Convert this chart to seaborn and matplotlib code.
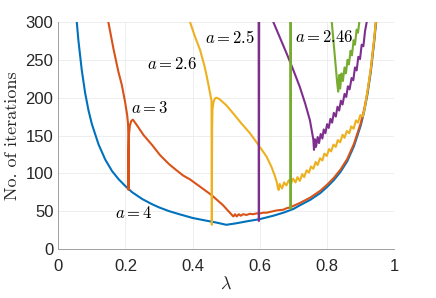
import matplotlib
matplotlib.use("Agg")
import matplotlib.pyplot as plt
import seaborn as sns
import numpy as np
import pandas as pd

# values
lam_a4 = [0.055, 0.06, 0.07, 0.08, 0.09, 0.10, 0.12, 0.14, 0.16, 0.18, 0.20, 0.22, 0.25,
          0.28, 0.30, 0.33, 0.36, 0.40, 0.44, 0.47, 0.50, 0.53, 0.56, 0.60, 0.64, 0.67,
          0.70, 0.72, 0.75, 0.78, 0.80, 0.82, 0.84, 0.86, 0.88, 0.90, 0.91, 0.92, 0.93,
          0.94, 0.946]
it_a4 = [300, 275, 236, 206, 183, 165, 138, 118, 103, 92, 83, 75, 66,
         59, 55, 50, 46, 41, 37.5, 35, 32, 34, 36.5, 39.5, 44, 48,
         53, 58, 65, 74, 82, 91, 102, 116, 136, 163, 181, 204, 234,
         273, 300]

lam_a3 = [0.149, 0.164, 0.179, 0.189, 0.1985, 0.205, 0.2075, 0.2085, 0.209, 0.2095, 0.2105,
          0.213, 0.217, 0.222, 0.235, 0.253, 0.28, 0.303, 0.33, 0.352, 0.372, 0.392, 0.42,
          0.457, 0.49, 0.521, 0.526, 0.531, 0.537, 0.543, 0.55, 0.56, 0.57, 0.58, 0.59, 0.60,
          0.61, 0.62, 0.63, 0.64, 0.65, 0.66, 0.67, 0.68, 0.69, 0.70, 0.72, 0.75, 0.78, 0.80,
          0.82, 0.84, 0.86, 0.88, 0.90, 0.91, 0.92, 0.93, 0.94, 0.945]
it_a3 = [300, 265, 234, 217, 195, 177, 166, 150, 78, 130, 152,
         163, 169, 171, 163, 151, 137, 124, 112, 104, 97, 92, 83,
         71, 58, 43, 46, 43, 46, 44, 46, 45, 46.5, 46, 47, 47,
         48, 48, 49, 50, 51, 51.5, 52, 54, 55, 57, 61, 68, 77, 85,
         94, 105, 119, 139, 166, 184, 207, 237, 276, 300]

lam_a26 = [0.392, 0.405, 0.422, 0.435, 0.442, 0.449, 0.453, 0.456, 0.457, 0.4578, 0.459,
           0.462, 0.466, 0.471, 0.48, 0.50, 0.521, 0.545, 0.5705, 0.595, 0.62, 0.635, 0.645,
           0.65, 0.653, 0.656, 0.659, 0.666, 0.672, 0.679, 0.686, 0.692, 0.699, 0.706, 0.712,
           0.719, 0.726, 0.732, 0.739, 0.746, 0.752, 0.759, 0.766, 0.772, 0.779, 0.786, 0.792,
           0.799, 0.806, 0.812, 0.819, 0.826, 0.832, 0.839, 0.846, 0.852, 0.859, 0.866, 0.872,
           0.879, 0.886, 0.892, 0.899, 0.906, 0.912, 0.92, 0.93, 0.94, 0.945]
it_a26 = [300, 283, 263, 242, 228, 212, 203, 196, 32, 160, 185,
          194, 199, 200, 198, 190, 179, 166, 153, 138, 122, 108, 96,
          89, 82, 78, 86, 80, 88, 84, 91, 86, 93, 88, 95,
          90, 99, 95, 104, 101, 109, 106, 115, 111, 120, 117, 126,
          123, 132, 129, 138, 135, 144, 141, 151, 147, 156, 153, 162,
          159, 170, 167, 177, 175, 186, 208, 238, 277, 300]

lam_a25 = [0.596, 0.597, 0.598, 0.62, 0.64, 0.66, 0.68, 0.70, 0.719, 0.735, 0.749, 0.755,
           0.759, 0.761, 0.764, 0.767, 0.772, 0.776, 0.781, 0.786, 0.79, 0.795, 0.80, 0.805,
           0.81, 0.815, 0.82, 0.826, 0.831, 0.836, 0.841, 0.846, 0.852, 0.857, 0.862, 0.867,
           0.873, 0.878, 0.883, 0.888, 0.893, 0.898, 0.903, 0.908, 0.913, 0.918]
it_a25 = [420, 37, 420, 330, 300, 279, 258, 236, 214, 192, 170, 155,
          145, 131, 145, 135, 148, 140, 152, 146, 158, 153, 165, 160,
          172, 167, 180, 175, 188, 183, 196, 191, 205, 201, 215, 211,
          226, 223, 240, 236, 254, 251, 270, 268, 288, 300]

lam_a246 = [0.690, 0.6915, 0.693, 0.80, 0.814, 0.82, 0.826, 0.83, 0.833, 0.836, 0.839,
            0.843, 0.847, 0.852, 0.856, 0.861, 0.865, 0.87, 0.874, 0.879, 0.883, 0.888,
            0.892, 0.896]
it_a246 = [420, 53, 420, 330, 300, 270, 240, 220, 208, 230, 212,
           232, 222, 240, 232, 250, 244, 262, 256, 276, 270, 290,
           286, 300]

curves = [
    (lam_a4, it_a4, "#0072BD"),
    (lam_a3, it_a3, "#D95319"),
    (lam_a26, it_a26, "#EDB120"),
    (lam_a25, it_a25, "#7E2F8E"),
    (lam_a246, it_a246, "#77AC30"),
]

label_text = [r"$a = 4$", r"$a = 3$", r"$a = 2.6$", r"$a = 2.5$", r"$a = 2.46$"]
label_x = [0.224, 0.273, 0.338, 0.511, 0.792]
label_y = [47, 187, 244, 280, 280]

sns.set_style("white")
plt.rcParams["font.family"] = ["Liberation Sans", "DejaVu Sans"]
plt.rcParams["mathtext.fontset"] = "cm"

fig = plt.figure(figsize=(4.36, 2.98), dpi=100)
ax = fig.add_axes([0.1337, 0.1644, 0.7706, 0.7617])

for lam, it, col in curves:
    df = pd.DataFrame({"lam": lam, "it": it})
    sns.lineplot(data=df, x="lam", y="it", sort=False, estimator=None,
                 color=col, linewidth=1.5, ax=ax)

for t, x, y in zip(label_text, label_x, label_y):
    ax.text(x, y, t, fontsize=12, ha="center", va="center", color="black")

ax.set_xlim(0, 1)
ax.set_ylim(0, 300)
ax.set_xticks(np.arange(0, 1.01, 0.2))
ax.set_xticklabels(["0", "0.2", "0.4", "0.6", "0.8", "1"])
ax.set_yticks(np.arange(0, 301, 50))
ax.grid(True, color="#ebebeb", linewidth=0.6)
ax.set_axisbelow(True)
for s in ["top", "right"]:
    ax.spines[s].set_visible(False)
for s in ["left", "bottom"]:
    ax.spines[s].set_color("#a0a0a0")
    ax.spines[s].set_linewidth(0.7)
ax.tick_params(direction="in", length=3, width=0.6, color="#a0a0a0",
               labelsize=12, labelcolor="#262626")
ax.tick_params(axis="x", pad=7.5)
ax.tick_params(axis="y", pad=3.5)
ax.set_xlabel(r"$\lambda$", fontsize=13, labelpad=1)
ax.set_ylabel("No. of iterations", fontsize=13, labelpad=4, family=["cmr10", "DejaVu Serif"])

fig.savefig("out.png", dpi=100)
